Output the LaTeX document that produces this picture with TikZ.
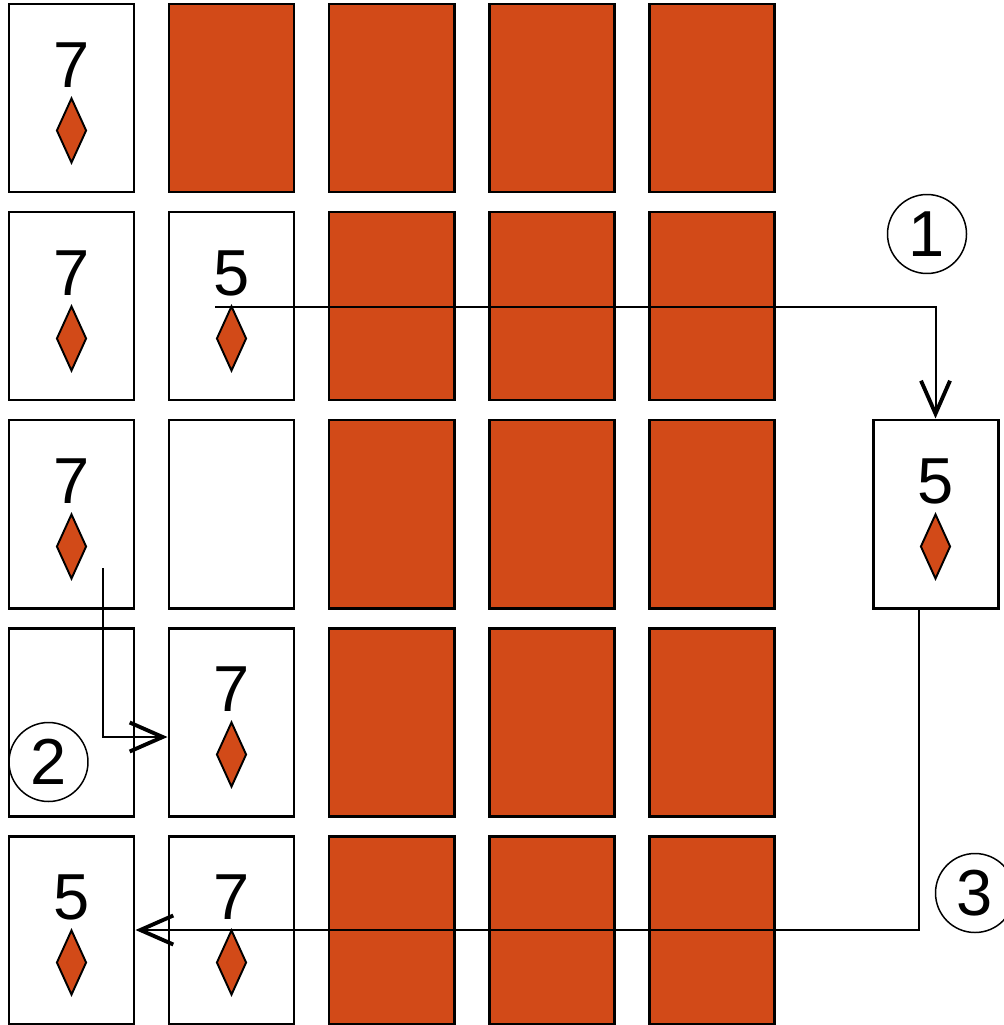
\documentclass[tikz,border=0pt]{standalone}
\usepackage{fontspec}
\setmainfont{Liberation Sans}
\usepackage{tikz}
\usetikzlibrary{shapes.geometric, arrows.meta, positioning, calc}
\definecolor{cardred}{RGB}{210,74,24}
\tikzset{
  card/.style={rectangle, draw=black, fill=white,
    minimum width=2.5cm, minimum height=3.76cm,
    inner sep=0pt, line width=1.7pt},
  backcard/.style={card, fill=cardred},
  cardnum/.style={font=\fontsize{37}{40}\selectfont, inner sep=0pt},
  suit/.style={diamond, draw=black, fill=cardred,
    minimum width=0.6cm, minimum height=1.3cm,
    inner sep=0pt, line width=1.1pt},
  stepmark/.style={circle, draw=black, minimum size=1.58cm,
    inner sep=0pt, line width=0.85pt, font=\fontsize{37}{40}\selectfont},
  arrow/.style={-{Straight Barb[length=0.66cm, width=0.58cm, line width=2.2pt]},
    line width=1.15pt, color=black}
}

\begin{document}
\begin{tikzpicture}
  \useasboundingbox (0,0) rectangle (20.06,-20.5);

  % Face-down cards
  \node[backcard] (c12) at (4.63, -1.96) {}; \node[backcard] (c13) at (7.83, -1.96) {};
  \node[backcard] (c14) at (11.03, -1.96) {}; \node[backcard] (c15) at (14.23, -1.96) {};
  \node[backcard] (c23) at (7.83, -6.12) {}; \node[backcard] (c24) at (11.03, -6.12) {};
  \node[backcard] (c25) at (14.23, -6.12) {};
  \node[backcard] (c33) at (7.83, -10.28) {}; \node[backcard] (c34) at (11.03, -10.28) {};
  \node[backcard] (c35) at (14.23, -10.28) {};
  \node[backcard] (c43) at (7.83, -14.44) {}; \node[backcard] (c44) at (11.03, -14.44) {};
  \node[backcard] (c45) at (14.23, -14.44) {};
  \node[backcard] (c53) at (7.83, -18.60) {}; \node[backcard] (c54) at (11.03, -18.60) {};
  \node[backcard] (c55) at (14.23, -18.60) {};

  % Face-up and empty cards
  \node[card] (c11) at (1.43, -1.96) {};
  \node[card] (c21) at (1.43, -6.12) {};
  \node[card] (c22) at (4.63, -6.12) {};
  \node[card] (c31) at (1.43, -10.28) {};
  \node[card] (c32) at (4.63, -10.28) {};
  \node[card] (c41) at (1.43, -14.44) {};
  \node[card] (c42) at (4.63, -14.44) {};
  \node[card] (c51) at (1.43, -18.60) {};
  \node[card] (c52) at (4.63, -18.60) {};
  \node[card] (held) at (18.71, -10.28) {};

  % Ranks
  \node[cardnum, yshift=0.65cm] (n11) at (c11) {7};
  \node[cardnum, yshift=0.65cm] (n21) at (c21) {7};
  \node[cardnum, yshift=0.65cm] (n22) at (c22) {5};
  \node[cardnum, yshift=0.65cm] (n31) at (c31) {7};
  \node[cardnum, yshift=0.65cm] (n42) at (c42) {7};
  \node[cardnum, yshift=0.65cm] (n51) at (c51) {5};
  \node[cardnum, yshift=0.65cm] (n52) at (c52) {7};
  \node[cardnum, yshift=0.65cm] (nheld) at (held) {5};

  % Suits
  \node[suit, yshift=-0.65cm] (s11) at (c11) {};
  \node[suit, yshift=-0.65cm] (s21) at (c21) {};
  \node[suit, yshift=-0.65cm] (s22) at (c22) {};
  \node[suit, yshift=-0.65cm] (s31) at (c31) {};
  \node[suit, yshift=-0.65cm] (s42) at (c42) {};
  \node[suit, yshift=-0.65cm] (s51) at (c51) {};
  \node[suit, yshift=-0.65cm] (s52) at (c52) {};
  \node[suit, yshift=-0.65cm] (sheld) at (held) {};

  % Step marks
  \node[stepmark] (m1) at (18.54, -4.68) {\raisebox{-3.7pt}{1}};
  \node[stepmark] (m2) at (0.97, -15.24) {\raisebox{-3.7pt}{2}};
  \node[stepmark] (m3) at (19.50, -17.86) {\raisebox{-3.7pt}{3}};

  % Moves
  \coordinate (from1) at (4.30, -6.14);
  \coordinate (from2) at (2.06, -11.36);
  \draw[arrow] (from1) -| (held.north);
  \draw[arrow] (from2) |- ([yshift=-0.30cm]c42.west);
  \draw[arrow] ([xshift=-0.33cm]held.south) |- (c51.east);
\end{tikzpicture}
\end{document}
